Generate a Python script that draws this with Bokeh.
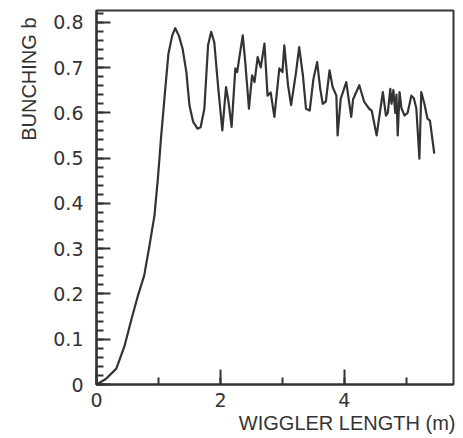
from bokeh.plotting import figure
from bokeh.models import Range1d, SingleIntervalTicker, CustomJSTickFormatter, Title
from bokeh.embed import file_html
from bokeh.resources import INLINE

# Data
wiggler_length = [0, 0.15, 0.32, 0.45, 0.56, 0.67, 0.77, 0.855, 0.935, 0.99,
                  1.04, 1.10, 1.16, 1.22, 1.27, 1.33, 1.39, 1.45, 1.50, 1.56,
                  1.63, 1.68, 1.74, 1.80, 1.85, 1.90, 1.96, 2.03, 2.09, 2.13,
                  2.18, 2.24, 2.27, 2.31, 2.36, 2.40, 2.46, 2.51, 2.55, 2.60,
                  2.65, 2.71, 2.76, 2.81, 2.87, 2.95, 3.00, 3.03, 3.09, 3.14,
                  3.22, 3.27, 3.33, 3.38, 3.44, 3.50, 3.56, 3.61, 3.65, 3.70,
                  3.76, 3.81, 3.87, 3.89, 3.94, 4.03, 4.11, 4.14, 4.24, 4.32,
                  4.40, 4.44, 4.52, 4.62, 4.67, 4.70, 4.74, 4.76, 4.79, 4.82,
                  4.84, 4.86, 4.89, 4.92, 4.97, 5.02, 5.08, 5.12, 5.16, 5.21,
                  5.24, 5.29, 5.34, 5.38, 5.45]
bunching = [0, 0.012, 0.035, 0.084, 0.142, 0.197, 0.241, 0.307, 0.373, 0.454,
            0.543, 0.638, 0.73, 0.77, 0.787, 0.77, 0.741, 0.69, 0.616, 0.58,
            0.565, 0.568, 0.609, 0.749, 0.779, 0.756, 0.661, 0.561, 0.657, 0.624,
            0.569, 0.698, 0.69, 0.727, 0.771, 0.712, 0.609, 0.683, 0.668, 0.723,
            0.70, 0.753, 0.638, 0.645, 0.591, 0.698, 0.69, 0.749, 0.661, 0.617,
            0.69, 0.745, 0.683, 0.609, 0.605, 0.675, 0.712, 0.653, 0.62, 0.625,
            0.694, 0.657, 0.638, 0.55, 0.631, 0.668, 0.591, 0.63, 0.661, 0.624,
            0.609, 0.605, 0.55, 0.646, 0.594, 0.60, 0.653, 0.62, 0.65, 0.60,
            0.64, 0.55, 0.646, 0.61, 0.594, 0.60, 0.638, 0.632, 0.61, 0.499,
            0.646, 0.62, 0.587, 0.583, 0.51]

x_title = "WIGGLER LENGTH (m)"
y_title = "BUNCHING b"

INK = "#333333"
FONT = "Liberation Sans"
TICK_FONT = "DejaVu Sans"

p = figure(width=455, height=436, output_backend="svg", toolbar_location=None,
           x_range=Range1d(0, 5.76), y_range=Range1d(0, 0.826),
           min_border_left=96, min_border_right=2, min_border_top=10,
           min_border_bottom=52)

p.line(wiggler_length, bunching, line_color=INK, line_width=2.2,
       line_join="round")

p.xgrid.visible = False
p.ygrid.visible = False
p.outline_line_color = INK
p.outline_line_width = 2
p.background_fill_color = "white"
p.border_fill_color = "white"

xa = p.xaxis[0]
xa.ticker = SingleIntervalTicker(interval=2, num_minor_ticks=2)
ya = p.yaxis[0]
ya.ticker = SingleIntervalTicker(interval=0.1, num_minor_ticks=5)
ya.formatter = CustomJSTickFormatter(code="return tick < 1e-9 ? '0' : tick.toFixed(1);")

for ax in (xa, ya):
    ax.axis_line_color = INK
    ax.axis_line_width = 2.2
    ax.major_tick_line_color = INK
    ax.minor_tick_line_color = INK
    ax.major_tick_line_width = 2
    ax.minor_tick_line_width = 2
    ax.major_tick_out = 0
    ax.minor_tick_out = 0
    ax.major_label_text_font = TICK_FONT
    ax.major_label_text_font_size = "19px"
    ax.major_label_text_color = INK

xa.major_tick_in = 15
xa.minor_tick_in = 7
xa.major_label_standoff = 8
ya.major_tick_in = 14
ya.minor_tick_in = 7
ya.major_label_standoff = 13

p.add_layout(Title(text=x_title, align="right", text_font=FONT,
                   text_font_size="20px", text_font_style="normal",
                   text_color=INK, standoff=0, offset=-2), "below")
p.add_layout(Title(text=y_title, align="right", text_font=FONT,
                   text_font_size="20px", text_font_style="normal",
                   text_color=INK, standoff=22, offset=7), "left")

open("out.html", "w").write(file_html(p, INLINE))
